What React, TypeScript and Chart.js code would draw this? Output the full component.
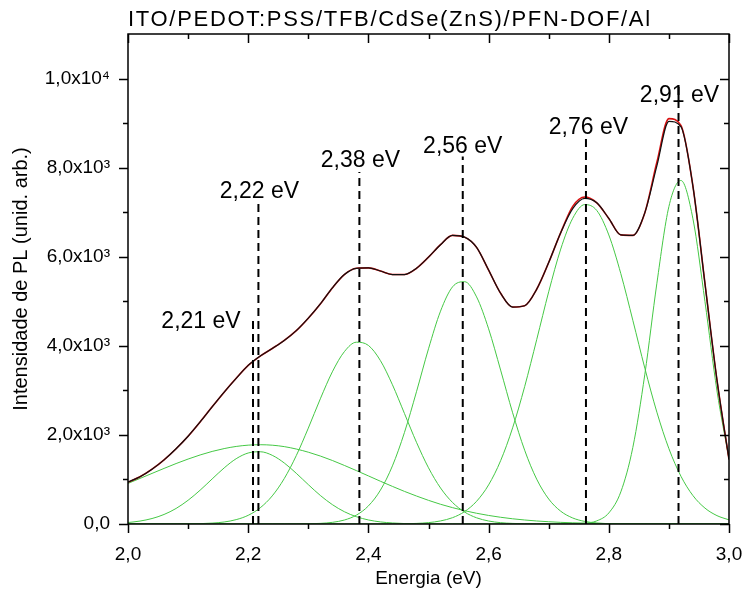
import React, { useEffect, useRef } from "react";
import { Chart, registerables } from "chart.js";

Chart.register(...registerables);

// ---------- data ----------
const titleText = "ITO/PEDOT:PSS/TFB/CdSe(ZnS)/PFN-DOF/Al";
const xTitle = "Energia (eV)";
const yTitle = "Intensidade de PL (unid. arb.)";

const xTickValues = [2.0, 2.2, 2.4, 2.6, 2.8, 3.0];
const yTickValues = [0, 2000, 4000, 6000, 8000, 10000];

const energy = [
  2.0, 2.02, 2.04, 2.06, 2.08, 2.1, 2.12, 2.14, 2.16, 2.18,
  2.2, 2.22, 2.24, 2.26, 2.28, 2.3, 2.32, 2.34, 2.36, 2.38,
  2.4, 2.42, 2.44, 2.46, 2.48, 2.5, 2.52, 2.54, 2.56, 2.58,
  2.6, 2.62, 2.64, 2.66, 2.68, 2.7, 2.72, 2.74, 2.76, 2.78,
  2.8, 2.82, 2.84, 2.86, 2.88, 2.9, 2.92, 2.94, 2.96, 2.98, 3.0,
];

const measured = [
  940, 1060, 1230, 1440, 1690, 1970, 2290, 2630, 2960, 3270,
  3560, 3770, 3940, 4120, 4340, 4620, 4940, 5300, 5600, 5740,
  5750, 5680, 5600, 5600, 5740, 5990, 6270, 6480, 6440, 6210,
  5700, 5180, 4870, 4900, 5270, 5870, 6540, 7080, 7310, 7210,
  6860, 6490, 6480, 6990, 8040, 9040, 8920, 7580, 5400, 3230, 1450,
];

const fitted = [
  940, 1060, 1230, 1440, 1690, 1970, 2290, 2630, 2960, 3270,
  3560, 3770, 3940, 4120, 4340, 4620, 4940, 5300, 5600, 5740,
  5750, 5680, 5600, 5600, 5740, 5990, 6270, 6480, 6440, 6210,
  5700, 5180, 4870, 4900, 5270, 5870, 6540, 7130, 7340, 7210,
  6860, 6490, 6480, 6990, 8120, 9100, 8950, 7580, 5400, 3230, 1450,
];

const peak221 = [
  911, 1023, 1136, 1248, 1357, 1458, 1550, 1629, 1693, 1741,
  1770, 1780, 1769, 1737, 1683, 1612, 1526, 1426, 1315, 1199,
  1080, 960, 844, 732, 628, 531, 443, 367, 299, 241,
  192, 151, 117, 90, 68, 51, 37, 27, 20, 14,
  10, 7, 5, 4, 3, 2, 1, 1, 0, 0, 0,
];

const peak222 = [
  33, 66, 123, 214, 349, 533, 759, 1011, 1259, 1466,
  1594, 1622, 1542, 1370, 1138, 884, 641, 435, 276, 164,
  91, 47, 23, 10, 4, 2, 1, 0, 0, 0,
  0, 0, 0, 0, 0, 0, 0, 0, 0, 0,
  0, 0, 0, 0, 0, 0, 0, 0, 0, 0, 0,
];

const peak238 = [
  0, 0, 0, 0, 1, 3, 8, 20, 45, 98,
  195, 364, 631, 1020, 1535, 2152, 2810, 3416, 3869, 4081,
  4009, 3668, 3126, 2481, 1834, 1262, 809, 483, 269, 139,
  67, 30, 13, 5, 2, 0, 0, 0, 0, 0,
  0, 0, 0, 0, 0, 0, 0, 0, 0, 0, 0,
];

const peak256 = [
  0, 0, 0, 0, 0, 0, 0, 0, 0, 0,
  0, 0, 0, 0, 2, 5, 14, 37, 89, 199,
  406, 760, 1305, 2055, 2969, 3933, 4778, 5324, 5440, 5098,
  4382, 3455, 2497, 1656, 1007, 561, 287, 135, 58, 23,
  8, 3, 1, 0, 0, 0, 0, 0, 0, 0, 0,
];

const peak276 = [
  0, 0, 0, 0, 0, 0, 0, 0, 0, 0,
  0, 0, 0, 0, 0, 0, 0, 0, 0, 0,
  0, 0, 2, 5, 13, 31, 69, 142, 278, 510,
  878, 1421, 2160, 3084, 4137, 5213, 6172, 6864, 7171, 7038,
  6489, 5620, 4572, 3495, 2510, 1692, 1073, 638, 357, 188, 93,
];

const peak291 = [
  0, 0, 0, 0, 0, 0, 0, 0, 0, 0,
  0, 0, 0, 0, 0, 0, 0, 0, 0, 0,
  0, 0, 0, 0, 0, 0, 0, 0, 0, 0,
  0, 0, 0, 0, 0, 0, 0, 3, 16, 70,
  248, 721, 1719, 3364, 5405, 7126, 7712, 6851, 4994, 2988, 1467,
];

const markerEnergy = [2.208, 2.217, 2.385, 2.557, 2.762, 2.916];
const markerTop = [4600, 7250, 7900, 8250, 8650, 9900];
const markerLabel = ["2,21 eV", "2,22 eV", "2,38 eV", "2,56 eV", "2,76 eV", "2,91 eV"];

// ---------- style ----------
const FONT = "Arial, 'Liberation Sans', sans-serif";
const GREEN = "#45c845";
// label centre offset (px) from the top of each dashed line
const LABEL_OFFSET: [number, number][] = [
  [-52, 1],
  [1, -11],
  [1, -13],
  [0, -11.5],
  [2.5, -13],
  [1, 10.5],
];

const fmtX = (v: number) => Number(v).toFixed(1).replace(".", ",");
const fmtY = (v: number) => {
  if (v === 0) return "0,0";
  if (v >= 10000) return (v / 10000).toFixed(1).replace(".", ",") + "x10\u2074";
  return (v / 1000).toFixed(1).replace(".", ",") + "x10\u00B3";
};

const framePlugin = {
  id: "frameTicks",
  afterDraw(chart: any) {
    const { ctx, chartArea: a, scales } = chart;
    const x = scales.x;
    const y = scales.y;
    ctx.save();
    ctx.strokeStyle = "#000";
    ctx.lineWidth = 1.5;
    ctx.strokeRect(a.left, a.top, a.right - a.left, a.bottom - a.top);
    const MAJ = 9;
    const MIN = 5;
    const xs: number[] = x.ticks.map((t: any) => t.value);
    const ys: number[] = y.ticks.map((t: any) => t.value);
    const xMinor: number[] = [];
    for (let i = 0; i < xs.length - 1; i++) xMinor.push((xs[i] + xs[i + 1]) / 2);
    const yMinor: number[] = [];
    for (let i = 0; i < ys.length - 1; i++) yMinor.push((ys[i] + ys[i + 1]) / 2);
    ctx.beginPath();
    const vt = (v: number, len: number) => {
      const px = Math.round(x.getPixelForValue(v)) + 0.5;
      ctx.moveTo(px, a.bottom);
      ctx.lineTo(px, a.bottom + len);
      ctx.moveTo(px, a.top);
      ctx.lineTo(px, a.top + len);
    };
    const ht = (v: number, len: number) => {
      const py = Math.round(y.getPixelForValue(v)) + 0.5;
      ctx.moveTo(a.left, py);
      ctx.lineTo(a.left - len, py);
      ctx.moveTo(a.right, py);
      ctx.lineTo(a.right - len, py);
    };
    xs.forEach((v) => vt(v, MAJ));
    xMinor.forEach((v) => vt(v, MIN));
    ys.forEach((v) => ht(v, MAJ));
    yMinor.forEach((v) => ht(v, MIN));
    ctx.stroke();

    // dashed-line labels
    ctx.fillStyle = "#000";
    ctx.font = `23px ${FONT}`;
    ctx.textAlign = "center";
    ctx.textBaseline = "alphabetic";
    markerLabel.forEach((txt, i) => {
      const px = x.getPixelForValue(markerEnergy[i]) + LABEL_OFFSET[i][0];
      const py = y.getPixelForValue(markerTop[i]) + LABEL_OFFSET[i][1];
      ctx.fillText(txt, px, py + 8.2);
    });

    // title
    ctx.font = `22px ${FONT}`;
    ctx.textAlign = "left";
    try {
      (ctx as any).letterSpacing = "1.7px";
    } catch (e) {}
    ctx.fillText(titleText, a.left, 26);
    try {
      (ctx as any).letterSpacing = "0px";
    } catch (e) {}
    ctx.restore();
  },
};

export default function App() {
  const ref = useRef<HTMLCanvasElement>(null);

  useEffect(() => {
    const canvas = ref.current;
    if (!canvas) return;
    const pts = (ys: number[]) => energy.map((e, i) => ({ x: e, y: ys[i] }));
    const curve = (ys: number[], color: string, width: number) => ({
      data: pts(ys),
      borderColor: color,
      borderWidth: width,
      pointRadius: 0,
      fill: false,
      cubicInterpolationMode: "monotone" as const,
    });
    const markers = markerEnergy.map((e, i) => ({
      data: [
        { x: e, y: 0 },
        { x: e, y: markerTop[i] },
      ],
      borderColor: "#000",
      borderWidth: 2,
      borderDash: [8, 5],
      pointRadius: 0,
      fill: false,
    }));

    const chart = new Chart(canvas, {
      type: "line",
      data: {
        datasets: [
          ...markers,
          curve(measured, "#111111", 1.2),
          curve(fitted, "#d81010", 1.6),
          curve(peak221, GREEN, 1),
          curve(peak222, GREEN, 1),
          curve(peak238, GREEN, 1),
          curve(peak256, GREEN, 1),
          curve(peak276, GREEN, 1),
          curve(peak291, GREEN, 1),
        ] as any,
      },
      options: {
        animation: false,
        responsive: false,
        devicePixelRatio: 1,
        layout: { padding: { top: 34, right: 16, left: 0, bottom: 0 } },
        plugins: {
          legend: { display: false },
          title: { display: false },
          tooltip: { enabled: false },
        },
        scales: {
          x: {
            type: "linear",
            min: 2,
            max: 3,
            grid: { display: false },
            border: { display: false },
            afterBuildTicks: (s: any) => {
              s.ticks = xTickValues.map((v) => ({ value: v }));
            },
            ticks: {
              autoSkip: false,
              maxRotation: 0,
              padding: 11,
              color: "#000",
              font: { family: FONT, size: 19 },
              callback: (v: any) => fmtX(Number(v)),
            },
            title: {
              display: true,
              text: xTitle,
              color: "#000",
              font: { family: FONT, size: 19 },
              padding: { top: 0, bottom: 6 },
            },
            afterFit: (s: any) => {
              s.height = 72;
              s.paddingLeft = 0;
              s.paddingRight = 0;
            },
          },
          y: {
            type: "linear",
            min: 0,
            max: 11000,
            grid: { display: false },
            border: { display: false },
            afterBuildTicks: (s: any) => {
              s.ticks = yTickValues.map((v) => ({ value: v }));
            },
            ticks: {
              autoSkip: false,
              padding: 10,
              color: "#000",
              font: { family: FONT, size: 19 },
              callback: (v: any) => fmtY(Number(v)),
            },
            title: {
              display: true,
              text: yTitle,
              color: "#000",
              font: { family: FONT, size: 20 },
              padding: { top: 9, bottom: 0 },
            },
            afterFit: (s: any) => {
              s.width = 128;
              s.paddingTop = 0;
              s.paddingBottom = 0;
            },
          },
        },
      } as any,
      plugins: [framePlugin],
    });
    return () => chart.destroy();
  }, []);

  return (
    <div
      style={{
        position: "absolute",
        left: 0,
        top: 0,
        width: 745,
        height: 596,
        background: "#fff",
      }}
    >
      <canvas ref={ref} width={745} height={596} style={{ display: "block" }} />
    </div>
  );
}
